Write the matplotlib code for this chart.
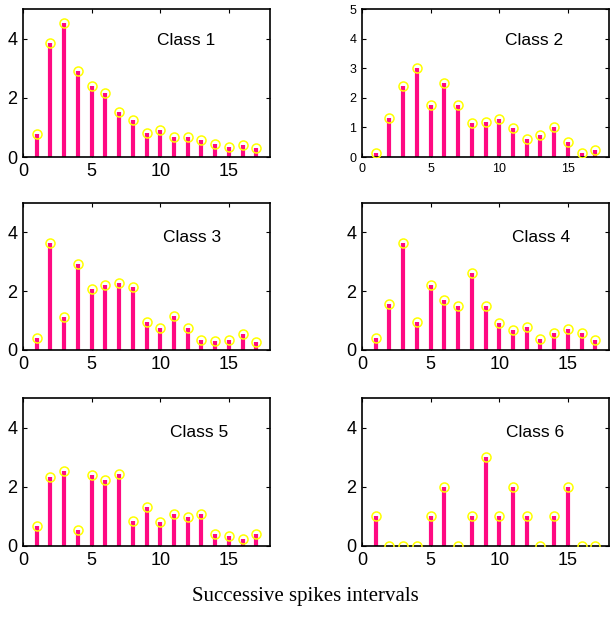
import numpy as np
import matplotlib
matplotlib.use('Agg')
import matplotlib.pyplot as plt

plt.rcParams['font.family'] = 'Liberation Sans'

intervals = np.arange(1, 18)

class1 = [0.78, 3.85, 4.54, 2.9, 2.4, 2.17, 1.51, 1.25, 0.82, 0.9, 0.68, 0.68, 0.56, 0.43, 0.33, 0.41, 0.29]
class2 = [0.15, 1.32, 2.4, 3.02, 1.74, 2.51, 1.74, 1.15, 1.19, 1.28, 0.97, 0.62, 0.74, 1.03, 0.51, 0.15, 0.23]
class3 = [0.42, 3.65, 1.12, 2.91, 2.08, 2.21, 2.29, 2.13, 0.96, 0.75, 1.16, 0.75, 0.35, 0.32, 0.35, 0.54, 0.26]
class4 = [0.42, 1.55, 3.65, 0.96, 2.2, 1.7, 1.5, 2.63, 1.5, 0.93, 0.67, 0.78, 0.39, 0.58, 0.7, 0.59, 0.33]
class5 = [0.66, 2.32, 2.52, 0.55, 2.4, 2.23, 2.44, 0.86, 1.32, 0.82, 1.08, 0.98, 1.08, 0.39, 0.33, 0.25, 0.39]
class6 = [1, 0, 0, 0, 1, 2, 0, 1, 3, 1, 2, 1, 0, 1, 2, 0, 0]

series = [class1, class2, class3, class4, class5, class6]
names = ['Class 1', 'Class 2', 'Class 3', 'Class 4', 'Class 5', 'Class 6']

W, H = 610, 628
fig = plt.figure(figsize=(W / 100, H / 100), dpi=100)

# axes boxes in pixels: left, top, right, bottom
cols = [(23, 270), (362, 609)]
rows = [(9, 157), (203, 350), (398, 546)]
label_pos = [(9.8, 3.95), (10.4, 3.95), (10.2, 3.84), (10.9, 3.84), (10.7, 3.85), (10.5, 3.85)]

for i, (vals, name) in enumerate(zip(series, names)):
    r, c = divmod(i, 2)
    x0, x1 = cols[c]
    y0, y1 = rows[r]
    ax = fig.add_axes([x0 / W, 1 - y1 / H, (x1 - x0) / W, (y1 - y0) / H])
    ax.vlines(intervals, 0, vals, color='#ff0a82', linewidth=3, zorder=2)
    ax.plot(intervals, vals, 'o', markerfacecolor='none', markeredgecolor='#ffff00',
            markersize=6.5, markeredgewidth=1.1, zorder=3)
    ax.set_xlim(0, 18)
    ax.set_ylim(0, 5)
    ax.set_xticks([0, 5, 10, 15])
    if i == 1:
        ax.set_yticks([0, 1, 2, 3, 4, 5])
        ax.tick_params(labelsize=9)
    else:
        ax.set_yticks([0, 2, 4])
        ax.tick_params(labelsize=13)
    ax.tick_params(direction='in', top=True, right=True, length=3, pad=4)
    for s in ax.spines.values():
        s.set_linewidth(1.2)
    ax.text(label_pos[i][0], label_pos[i][1], name, fontsize=12.5, va='center', ha='left')

fig.text(0.5, 1 - 596 / H, 'Successive spikes intervals', family='Liberation Serif',
         fontsize=15, ha='center', va='center')

fig.savefig('out.png', dpi=100)
